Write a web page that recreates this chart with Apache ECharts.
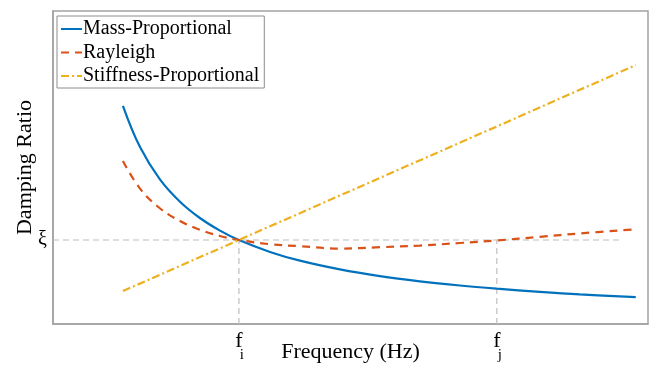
<!DOCTYPE html>
<html><head><meta charset="utf-8">
<script src="https://cdn.jsdelivr.net/npm/echarts@6/dist/echarts.min.js"></script>
<style>html,body{margin:0;padding:0;background:#fff}#c{width:656px;height:365px}</style>
</head><body><div id="c"></div>
<script>
// Frequency in units of f_i
const freq = [0.376, 0.468, 0.575, 0.683, 0.790, 0.898, 1.0, 1.167, 1.328, 1.543, 1.758, 1.973, 2.188, 2.387, 2.618, 2.833, 3.134];
const massProp = [0.1299, 0.1053, 0.0861, 0.0728, 0.0631, 0.0556, 0.0500, 0.0429, 0.0377, 0.0325, 0.0285, 0.0254, 0.0229, 0.0210, 0.0191, 0.0176, 0.0160];
const rayleigh = [0.0970, 0.0806, 0.0689, 0.0613, 0.0561, 0.0524, 0.0500, 0.0475, 0.0463, 0.0449, 0.0457, 0.0467, 0.0482, 0.0497, 0.0519, 0.0539, 0.0564];
const stiffFreq = [0.376, 1.0, 2.387, 3.134];
const stiffProp = [0.0196, 0.0500, 0.1176, 0.1541];
const xi = 0.05;
const fi = 1.0, fj = 2.387;
const xiLineEnd = 3.048;
const seriesNames = ['Mass-Proportional', 'Rayleigh', 'Stiffness-Proportional'];
const xTickLabels = ['i', 'j'];

const serif = '"Liberation Serif", "DejaVu Serif", serif';
const zip = (a, b) => a.map((v, i) => [v, b[i]]);
const guide = {color: '#bdbdbd', width: 1.2, type: [6, 4]};

const chart = echarts.init(document.getElementById('c'), null, {renderer: 'canvas'});
chart.setOption({
  animation: false,
  grid: {left: 53, right: 8, top: 11, bottom: 41, show: true, borderColor: '#a3a3a3', borderWidth: 1.5,
         containLabel: false, outerBoundsMode: 'none'},
  legend: {
    orient: 'vertical', left: 57, top: 16, padding: [2, 5, 1, 3],
    backgroundColor: '#fff', borderColor: '#8c8c8c', borderWidth: 1,
    itemWidth: 21, itemHeight: 14, itemGap: 1.5,
    itemStyle: {opacity: 0},
    textStyle: {fontFamily: serif, fontSize: 20, color: '#000', padding: [0, 0, 0, -4], lineHeight: 22},
    data: seriesNames
  },
  xAxis: {
    type: 'value', min: 0, max: 3.2,
    name: 'Frequency (Hz)', nameLocation: 'middle', nameGap: 17, nameMoveOverlap: false,
    nameTextStyle: {fontFamily: serif, fontSize: 22, color: '#000', verticalAlign: 'top'},
    axisLine: {show: true, lineStyle: {color: '#a3a3a3', width: 1.5}},
    axisTick: {show: false}, splitLine: {show: false},
    axisLabel: {
      customValues: [fi, fj], margin: 11,
      formatter: v => Math.abs(v - fi) < 1e-6 ? '{f|f}\n{s|' + xTickLabels[0] + '}' : '{f|f}\n{s|' + xTickLabels[1] + '}',
      rich: {
        f: {fontFamily: serif, fontSize: 22, color: '#000', lineHeight: 13},
        s: {fontFamily: serif, fontSize: 15, color: '#000', lineHeight: 14, padding: [0, 0, 0, 6]}
      }
    }
  },
  yAxis: {
    type: 'value', min: 0, max: 0.1863,
    name: 'Damping Ratio', nameLocation: 'middle', nameGap: 17, nameMoveOverlap: false,
    nameTextStyle: {fontFamily: serif, fontSize: 22, color: '#000', verticalAlign: 'bottom'},
    axisLine: {show: true, lineStyle: {color: '#a3a3a3', width: 1.5}},
    axisTick: {show: false}, splitLine: {show: false},
    axisLabel: {
      customValues: [xi], margin: 6,
      formatter: () => 'ξ',
      fontFamily: serif, fontSize: 20, color: '#000'
    }
  },
  series: [
    {name: 'g1', type: 'line', data: [[0, xi], [xiLineEnd, xi]], symbol: 'none', silent: true, lineStyle: guide, z: 1},
    {name: 'g2', type: 'line', data: [[fi, 0], [fi, xi]], symbol: 'none', silent: true, lineStyle: guide, z: 1},
    {name: 'g3', type: 'line', data: [[fj, 0], [fj, xi]], symbol: 'none', silent: true, lineStyle: guide, z: 1},
    {
      name: seriesNames[0], type: 'line', data: zip(freq, massProp), smooth: 0.4, symbol: 'none',
      color: '#0072BD', lineStyle: {color: '#0072BD', width: 2.2}, z: 3
    },
    {
      name: seriesNames[1], type: 'line', data: zip(freq, rayleigh), smooth: 0.4, symbol: 'none',
      color: '#D95319', lineStyle: {color: '#D95319', width: 2.2, type: [8, 6]}, z: 3
    },
    {
      name: seriesNames[2], type: 'line', data: zip(stiffFreq, stiffProp), symbol: 'none',
      color: '#EDB120', lineStyle: {color: '#EDB120', width: 2.2, type: [8, 3, 2, 3]}, z: 3
    }
  ]
});
</script></body></html>
